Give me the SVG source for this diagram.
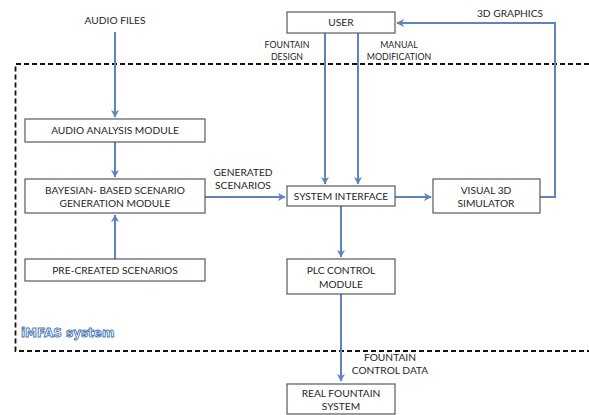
<svg xmlns="http://www.w3.org/2000/svg" width="589" height="415" viewBox="0 0 589 415">
<style>
.box{fill:#fff;stroke:#595959;stroke-width:1.2}
.t{font-family:Lato,"Liberation Sans",sans-serif;font-size:10.2px;fill:#262626;text-anchor:middle}
.s{font-size:8.8px}
.c{fill:none;stroke:#5b84c0;stroke-width:2}
</style>
<defs>
<marker id="ah" viewBox="0 0 10 10" refX="9" refY="5" markerWidth="4" markerHeight="4" orient="auto" markerUnits="strokeWidth">
<path d="M0,0 L10,5 L0,10 L3,5 Z" fill="#5b84c0"/>
</marker>
</defs>
<rect width="589" height="415" fill="#fff"/>
<g id="system-boundary">
<path d="M589,64 H15.5 V351 H589" fill="none" stroke="#111" stroke-width="1.8" stroke-dasharray="5,3"/>
<text x="21" y="337" font-family="'DejaVu Sans',sans-serif" font-weight="bold" font-size="12" fill="#fff" stroke="#4a78b5" stroke-width="0.9">iMFAS system</text>
</g>
<g id="connectors">
<line class="c" x1="115" y1="32" x2="115" y2="117" marker-end="url(#ah)"/>
<line class="c" x1="115" y1="142" x2="115" y2="177" marker-end="url(#ah)"/>
<line class="c" x1="115" y1="259" x2="115" y2="215" marker-end="url(#ah)"/>
<line class="c" x1="205" y1="197" x2="285" y2="197" marker-end="url(#ah)"/>
<line class="c" x1="395" y1="197" x2="431" y2="197" marker-end="url(#ah)"/>
<path class="c" d="M540,197 H555 V23 H397" marker-end="url(#ah)"/>
<line class="c" x1="325" y1="33" x2="325" y2="184" marker-end="url(#ah)"/>
<line class="c" x1="358" y1="33" x2="358" y2="184" marker-end="url(#ah)"/>
<line class="c" x1="341" y1="206" x2="341" y2="257" marker-end="url(#ah)"/>
<line class="c" x1="341" y1="294" x2="341" y2="381" marker-end="url(#ah)"/>
</g>
<g id="labels">
<text class="t" x="115" y="24">AUDIO FILES</text>
<text class="t" x="243" y="176">GENERATED</text>
<text class="t" x="243" y="189">SCENARIOS</text>
<text class="t s" x="287" y="48">FOUNTAIN</text>
<text class="t s" x="287" y="60">DESIGN</text>
<text class="t s" x="399" y="48">MANUAL</text>
<text class="t s" x="399" y="60">MODIFICATION</text>
<text class="t" x="510" y="17">3D GRAPHICS</text>
<text class="t" x="390" y="361">FOUNTAIN</text>
<text class="t" x="390" y="374">CONTROL DATA</text>
</g>
<g id="user"><rect class="box" x="287" y="12" width="108" height="21"/><text class="t" x="341" y="26">USER</text></g>
<g id="audio-analysis"><rect class="box" x="25" y="119" width="180" height="23"/><text class="t" x="115" y="134">AUDIO ANALYSIS MODULE</text></g>
<g id="bayesian"><rect class="box" x="25" y="179" width="180" height="34"/><text class="t" x="115" y="194">BAYESIAN- BASED  SCENARIO</text><text class="t" x="115" y="207">GENERATION MODULE</text></g>
<g id="pre-created"><rect class="box" x="25" y="259" width="180" height="22"/><text class="t" x="115" y="274">PRE-CREATED SCENARIOS</text></g>
<g id="system-interface"><rect class="box" x="287" y="186" width="108" height="20"/><text class="t" x="341" y="200">SYSTEM INTERFACE</text></g>
<g id="visual-3d"><rect class="box" x="433" y="179" width="107" height="34"/><text class="t" x="486" y="194">VISUAL 3D</text><text class="t" x="486" y="207">SIMULATOR</text></g>
<g id="plc"><rect class="box" x="287" y="259" width="108" height="35"/><text class="t" x="341" y="274">PLC CONTROL</text><text class="t" x="341" y="288">MODULE</text></g>
<g id="real-fountain"><rect class="box" x="287" y="384" width="108" height="30"/><text class="t" x="341" y="397">REAL FOUNTAIN</text><text class="t" x="341" y="410">SYSTEM</text></g>
</svg>
